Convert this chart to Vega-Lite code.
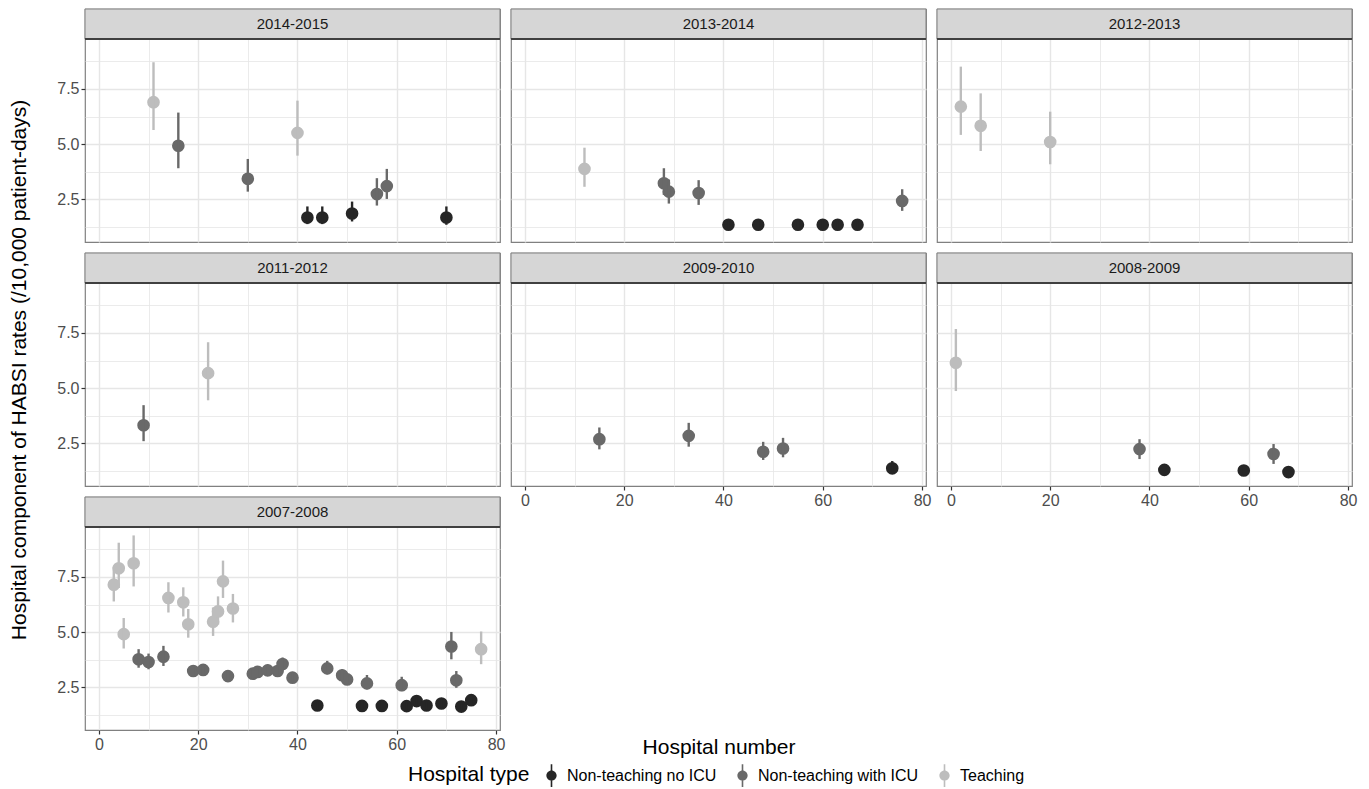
{
  "$schema": "https://vega.github.io/schema/vega-lite/v6.json",
  "background": "white",
  "padding": {"left": 8, "top": 7, "right": 5, "bottom": 0},
  "datasets": {"d": [
    {"p":"2014-2015","h":11,"t":"Teaching","v":6.9,"lo":5.64,"hi":8.71},
    {"p":"2014-2015","h":16,"t":"Non-teaching with ICU","v":4.93,"lo":3.91,"hi":6.43},
    {"p":"2014-2015","h":30,"t":"Non-teaching with ICU","v":3.43,"lo":2.85,"hi":4.33},
    {"p":"2014-2015","h":40,"t":"Teaching","v":5.51,"lo":4.48,"hi":6.97},
    {"p":"2014-2015","h":42,"t":"Non-teaching no ICU","v":1.68,"lo":1.38,"hi":2.18},
    {"p":"2014-2015","h":45,"t":"Non-teaching no ICU","v":1.68,"lo":1.38,"hi":2.18},
    {"p":"2014-2015","h":51,"t":"Non-teaching no ICU","v":1.86,"lo":1.5,"hi":2.4},
    {"p":"2014-2015","h":56,"t":"Non-teaching with ICU","v":2.74,"lo":2.22,"hi":3.46},
    {"p":"2014-2015","h":58,"t":"Non-teaching with ICU","v":3.1,"lo":2.52,"hi":3.88},
    {"p":"2014-2015","h":70,"t":"Non-teaching no ICU","v":1.68,"lo":1.35,"hi":2.18},
    {"p":"2013-2014","h":12,"t":"Teaching","v":3.88,"lo":3.07,"hi":4.84},
    {"p":"2013-2014","h":28,"t":"Non-teaching with ICU","v":3.23,"lo":2.7,"hi":3.91},
    {"p":"2013-2014","h":29,"t":"Non-teaching with ICU","v":2.85,"lo":2.31,"hi":3.4},
    {"p":"2013-2014","h":35,"t":"Non-teaching with ICU","v":2.79,"lo":2.25,"hi":3.37},
    {"p":"2013-2014","h":41,"t":"Non-teaching no ICU","v":1.35,"lo":1.15,"hi":1.6},
    {"p":"2013-2014","h":47,"t":"Non-teaching no ICU","v":1.35,"lo":1.15,"hi":1.6},
    {"p":"2013-2014","h":55,"t":"Non-teaching no ICU","v":1.35,"lo":1.15,"hi":1.6},
    {"p":"2013-2014","h":60,"t":"Non-teaching no ICU","v":1.35,"lo":1.15,"hi":1.6},
    {"p":"2013-2014","h":63,"t":"Non-teaching no ICU","v":1.35,"lo":1.15,"hi":1.6},
    {"p":"2013-2014","h":67,"t":"Non-teaching no ICU","v":1.35,"lo":1.15,"hi":1.6},
    {"p":"2013-2014","h":76,"t":"Non-teaching with ICU","v":2.43,"lo":1.98,"hi":2.96},
    {"p":"2012-2013","h":2,"t":"Teaching","v":6.7,"lo":5.42,"hi":8.51},
    {"p":"2012-2013","h":6,"t":"Teaching","v":5.83,"lo":4.69,"hi":7.3},
    {"p":"2012-2013","h":20,"t":"Teaching","v":5.1,"lo":4.09,"hi":6.47},
    {"p":"2011-2012","h":9,"t":"Non-teaching with ICU","v":3.32,"lo":2.6,"hi":4.23},
    {"p":"2011-2012","h":22,"t":"Teaching","v":5.68,"lo":4.45,"hi":7.08},
    {"p":"2009-2010","h":15,"t":"Non-teaching with ICU","v":2.69,"lo":2.23,"hi":3.22},
    {"p":"2009-2010","h":33,"t":"Non-teaching with ICU","v":2.84,"lo":2.35,"hi":3.43},
    {"p":"2009-2010","h":48,"t":"Non-teaching with ICU","v":2.12,"lo":1.75,"hi":2.57},
    {"p":"2009-2010","h":52,"t":"Non-teaching with ICU","v":2.27,"lo":1.87,"hi":2.75},
    {"p":"2009-2010","h":74,"t":"Non-teaching no ICU","v":1.37,"lo":1.15,"hi":1.7},
    {"p":"2008-2009","h":1,"t":"Teaching","v":6.15,"lo":4.87,"hi":7.68},
    {"p":"2008-2009","h":38,"t":"Non-teaching with ICU","v":2.24,"lo":1.79,"hi":2.69},
    {"p":"2008-2009","h":43,"t":"Non-teaching no ICU","v":1.3,"lo":1.1,"hi":1.55},
    {"p":"2008-2009","h":59,"t":"Non-teaching no ICU","v":1.27,"lo":1.08,"hi":1.5},
    {"p":"2008-2009","h":65,"t":"Non-teaching with ICU","v":2.02,"lo":1.57,"hi":2.47},
    {"p":"2008-2009","h":68,"t":"Non-teaching no ICU","v":1.2,"lo":1.02,"hi":1.45},
    {"p":"2007-2008","h":3,"t":"Teaching","v":7.15,"lo":6.39,"hi":7.95},
    {"p":"2007-2008","h":4,"t":"Teaching","v":7.89,"lo":7.0,"hi":9.05},
    {"p":"2007-2008","h":5,"t":"Teaching","v":4.91,"lo":4.26,"hi":5.64},
    {"p":"2007-2008","h":7,"t":"Teaching","v":8.12,"lo":7.07,"hi":9.38},
    {"p":"2007-2008","h":14,"t":"Teaching","v":6.55,"lo":5.89,"hi":7.26},
    {"p":"2007-2008","h":17,"t":"Teaching","v":6.35,"lo":5.71,"hi":7.03},
    {"p":"2007-2008","h":18,"t":"Teaching","v":5.36,"lo":4.75,"hi":6.05},
    {"p":"2007-2008","h":23,"t":"Teaching","v":5.47,"lo":4.83,"hi":6.12},
    {"p":"2007-2008","h":24,"t":"Teaching","v":5.94,"lo":5.35,"hi":6.62},
    {"p":"2007-2008","h":25,"t":"Teaching","v":7.3,"lo":6.55,"hi":8.24},
    {"p":"2007-2008","h":27,"t":"Teaching","v":6.07,"lo":5.44,"hi":6.73},
    {"p":"2007-2008","h":77,"t":"Teaching","v":4.23,"lo":3.55,"hi":5.03},
    {"p":"2007-2008","h":8,"t":"Non-teaching with ICU","v":3.77,"lo":3.39,"hi":4.23},
    {"p":"2007-2008","h":10,"t":"Non-teaching with ICU","v":3.65,"lo":3.32,"hi":4.03},
    {"p":"2007-2008","h":13,"t":"Non-teaching with ICU","v":3.89,"lo":3.47,"hi":4.38},
    {"p":"2007-2008","h":19,"t":"Non-teaching with ICU","v":3.24,"lo":3.0,"hi":3.5},
    {"p":"2007-2008","h":21,"t":"Non-teaching with ICU","v":3.29,"lo":3.05,"hi":3.55},
    {"p":"2007-2008","h":26,"t":"Non-teaching with ICU","v":3.01,"lo":2.78,"hi":3.27},
    {"p":"2007-2008","h":31,"t":"Non-teaching with ICU","v":3.12,"lo":2.88,"hi":3.38},
    {"p":"2007-2008","h":32,"t":"Non-teaching with ICU","v":3.2,"lo":2.95,"hi":3.46},
    {"p":"2007-2008","h":34,"t":"Non-teaching with ICU","v":3.27,"lo":3.02,"hi":3.53},
    {"p":"2007-2008","h":36,"t":"Non-teaching with ICU","v":3.24,"lo":2.99,"hi":3.5},
    {"p":"2007-2008","h":37,"t":"Non-teaching with ICU","v":3.56,"lo":3.28,"hi":3.85},
    {"p":"2007-2008","h":39,"t":"Non-teaching with ICU","v":2.94,"lo":2.7,"hi":3.2},
    {"p":"2007-2008","h":46,"t":"Non-teaching with ICU","v":3.36,"lo":3.09,"hi":3.7},
    {"p":"2007-2008","h":49,"t":"Non-teaching with ICU","v":3.05,"lo":2.8,"hi":3.32},
    {"p":"2007-2008","h":50,"t":"Non-teaching with ICU","v":2.86,"lo":2.62,"hi":3.12},
    {"p":"2007-2008","h":54,"t":"Non-teaching with ICU","v":2.68,"lo":2.41,"hi":3.06},
    {"p":"2007-2008","h":61,"t":"Non-teaching with ICU","v":2.6,"lo":2.33,"hi":2.98},
    {"p":"2007-2008","h":71,"t":"Non-teaching with ICU","v":4.35,"lo":3.77,"hi":5.01},
    {"p":"2007-2008","h":72,"t":"Non-teaching with ICU","v":2.82,"lo":2.48,"hi":3.24},
    {"p":"2007-2008","h":44,"t":"Non-teaching no ICU","v":1.68,"lo":1.5,"hi":1.88},
    {"p":"2007-2008","h":53,"t":"Non-teaching no ICU","v":1.66,"lo":1.48,"hi":1.86},
    {"p":"2007-2008","h":57,"t":"Non-teaching no ICU","v":1.66,"lo":1.48,"hi":1.86},
    {"p":"2007-2008","h":62,"t":"Non-teaching no ICU","v":1.65,"lo":1.47,"hi":1.85},
    {"p":"2007-2008","h":64,"t":"Non-teaching no ICU","v":1.88,"lo":1.68,"hi":2.1},
    {"p":"2007-2008","h":66,"t":"Non-teaching no ICU","v":1.68,"lo":1.5,"hi":1.88},
    {"p":"2007-2008","h":69,"t":"Non-teaching no ICU","v":1.77,"lo":1.58,"hi":1.98},
    {"p":"2007-2008","h":73,"t":"Non-teaching no ICU","v":1.63,"lo":1.45,"hi":1.83},
    {"p":"2007-2008","h":75,"t":"Non-teaching no ICU","v":1.92,"lo":1.72,"hi":2.15}
  ]},
  "columns": 3,
  "spacing": 11,
  "bounds": "flush",
  "concat": [
    {"width": 415, "height": 233, "data": {"name": "d"}, "transform": [{"filter": {"field": "p", "equal": "2014-2015"}}],
     "encoding": {
       "x": {"type": "quantitative", "scale": {"domain": [-2.8, 80.8], "nice": false, "zero": false},
         "axis": {"title": null, "values": [0,10,20,30,40,50,60,70,80], "labels": false, "ticks": false, "gridWidth": {"condition": {"test": "datum.value % 20 !== 0", "value": 0.8}, "value": 1.4}}},
       "y": {"type": "quantitative", "scale": {"domain": [0.57, 11.12], "nice": false, "zero": false},
         "axis": {"title": null, "values": [1.25,2.5,3.75,5,6.25,7.5,8.75], "labelExpr": "datum.value % 2.5 === 0 ? format(datum.value, '.1f') : ''",
           "tickSize": {"condition": {"test": "datum.value % 2.5 !== 0", "value": 0}, "value": 4},
           "gridWidth": {"condition": {"test": "datum.value % 2.5 !== 0", "value": 0.8}, "value": 1.4}}}
     },
     "layer": [
      {"mark": {"type": "point", "shape": "circle", "filled": true, "opacity": 1, "size": 160},
       "encoding": {"x": {"field": "h"}, "y": {"field": "v"},
        "color": {"field": "t", "type": "nominal", "scale": {"domain": ["Non-teaching no ICU","Non-teaching with ICU","Teaching"], "range": ["#262626","#696969","#bdbdbd"]}, "title": "Hospital type"}}},
      {"mark": {"type": "rule", "strokeWidth": 2.4},
       "encoding": {"x": {"field": "h"}, "y": {"field": "lo"}, "y2": {"field": "hi"}, "color": {"field": "t", "type": "nominal", "title": "Hospital type"}}},
      {"transform": [{"aggregate": [{"op": "count", "as": "n"}], "groupby": ["p"]}],
       "layer": [
        {"mark": {"type": "rect", "fill": "#d6d6d6", "stroke": "#808080", "strokeWidth": 1}, "encoding": {"x": {"datum": -2.8}, "x2": {"datum": 80.8}, "y": {"datum": 9.76}, "y2": {"datum": 11.12}}},
        {"mark": {"type": "rule", "stroke": "#404040", "strokeWidth": 2}, "encoding": {"x": {"datum": -2.8}, "x2": {"datum": 80.8}, "y": {"datum": 9.76}}},
        {"mark": {"type": "text", "fontSize": 15, "font": "Liberation Sans", "color": "#1a1a1a", "baseline": "middle"}, "encoding": {"x": {"datum": 39}, "y": {"datum": 10.44}, "text": {"field": "p"}}}
       ]}
     ]},
    {"width": 415, "height": 233, "data": {"name": "d"}, "transform": [{"filter": {"field": "p", "equal": "2013-2014"}}],
     "encoding": {
       "x": {"type": "quantitative", "scale": {"domain": [-2.8, 80.8], "nice": false, "zero": false},
         "axis": {"title": null, "values": [0,10,20,30,40,50,60,70,80], "labels": false, "ticks": false, "gridWidth": {"condition": {"test": "datum.value % 20 !== 0", "value": 0.8}, "value": 1.4}}},
       "y": {"type": "quantitative", "scale": {"domain": [0.57, 11.12], "nice": false, "zero": false},
         "axis": {"title": null, "values": [1.25,2.5,3.75,5,6.25,7.5,8.75], "labels": false, "ticks": false,
           "gridWidth": {"condition": {"test": "datum.value % 2.5 !== 0", "value": 0.8}, "value": 1.4}}}
     },
     "layer": [
      {"mark": {"type": "point", "shape": "circle", "filled": true, "opacity": 1, "size": 160},
       "encoding": {"x": {"field": "h"}, "y": {"field": "v"},
        "color": {"field": "t", "type": "nominal", "scale": {"domain": ["Non-teaching no ICU","Non-teaching with ICU","Teaching"], "range": ["#262626","#696969","#bdbdbd"]}, "title": "Hospital type"}}},
      {"mark": {"type": "rule", "strokeWidth": 2.4},
       "encoding": {"x": {"field": "h"}, "y": {"field": "lo"}, "y2": {"field": "hi"}, "color": {"field": "t", "type": "nominal", "title": "Hospital type"}}},
      {"transform": [{"aggregate": [{"op": "count", "as": "n"}], "groupby": ["p"]}],
       "layer": [
        {"mark": {"type": "rect", "fill": "#d6d6d6", "stroke": "#808080", "strokeWidth": 1}, "encoding": {"x": {"datum": -2.8}, "x2": {"datum": 80.8}, "y": {"datum": 9.76}, "y2": {"datum": 11.12}}},
        {"mark": {"type": "rule", "stroke": "#404040", "strokeWidth": 2}, "encoding": {"x": {"datum": -2.8}, "x2": {"datum": 80.8}, "y": {"datum": 9.76}}},
        {"mark": {"type": "text", "fontSize": 15, "font": "Liberation Sans", "color": "#1a1a1a", "baseline": "middle"}, "encoding": {"x": {"datum": 39}, "y": {"datum": 10.44}, "text": {"field": "p"}}}
       ]}
     ]},
    {"width": 415, "height": 233, "data": {"name": "d"}, "transform": [{"filter": {"field": "p", "equal": "2012-2013"}}],
     "encoding": {
       "x": {"type": "quantitative", "scale": {"domain": [-2.8, 80.8], "nice": false, "zero": false},
         "axis": {"title": null, "values": [0,10,20,30,40,50,60,70,80], "labels": false, "ticks": false, "gridWidth": {"condition": {"test": "datum.value % 20 !== 0", "value": 0.8}, "value": 1.4}}},
       "y": {"type": "quantitative", "scale": {"domain": [0.57, 11.12], "nice": false, "zero": false},
         "axis": {"title": null, "values": [1.25,2.5,3.75,5,6.25,7.5,8.75], "labels": false, "ticks": false,
           "gridWidth": {"condition": {"test": "datum.value % 2.5 !== 0", "value": 0.8}, "value": 1.4}}}
     },
     "layer": [
      {"mark": {"type": "point", "shape": "circle", "filled": true, "opacity": 1, "size": 160},
       "encoding": {"x": {"field": "h"}, "y": {"field": "v"},
        "color": {"field": "t", "type": "nominal", "scale": {"domain": ["Non-teaching no ICU","Non-teaching with ICU","Teaching"], "range": ["#262626","#696969","#bdbdbd"]}, "title": "Hospital type"}}},
      {"mark": {"type": "rule", "strokeWidth": 2.4},
       "encoding": {"x": {"field": "h"}, "y": {"field": "lo"}, "y2": {"field": "hi"}, "color": {"field": "t", "type": "nominal", "title": "Hospital type"}}},
      {"transform": [{"aggregate": [{"op": "count", "as": "n"}], "groupby": ["p"]}],
       "layer": [
        {"mark": {"type": "rect", "fill": "#d6d6d6", "stroke": "#808080", "strokeWidth": 1}, "encoding": {"x": {"datum": -2.8}, "x2": {"datum": 80.8}, "y": {"datum": 9.76}, "y2": {"datum": 11.12}}},
        {"mark": {"type": "rule", "stroke": "#404040", "strokeWidth": 2}, "encoding": {"x": {"datum": -2.8}, "x2": {"datum": 80.8}, "y": {"datum": 9.76}}},
        {"mark": {"type": "text", "fontSize": 15, "font": "Liberation Sans", "color": "#1a1a1a", "baseline": "middle"}, "encoding": {"x": {"datum": 39}, "y": {"datum": 10.44}, "text": {"field": "p"}}}
       ]}
     ]},
    {"width": 415, "height": 233, "data": {"name": "d"}, "transform": [{"filter": {"field": "p", "equal": "2011-2012"}}],
     "encoding": {
       "x": {"type": "quantitative", "scale": {"domain": [-2.8, 80.8], "nice": false, "zero": false},
         "axis": {"title": null, "values": [0,10,20,30,40,50,60,70,80], "labels": false, "ticks": false, "gridWidth": {"condition": {"test": "datum.value % 20 !== 0", "value": 0.8}, "value": 1.4}}},
       "y": {"type": "quantitative", "scale": {"domain": [0.57, 11.12], "nice": false, "zero": false},
         "axis": {"title": "Hospital component of HABSI rates (/10,000 patient-days)", "titleFontSize": 21, "titleFont": "Liberation Sans", "titleFontWeight": "normal", "titleColor": "#000000", "titlePadding": 27,
           "values": [1.25,2.5,3.75,5,6.25,7.5,8.75], "labelExpr": "datum.value % 2.5 === 0 ? format(datum.value, '.1f') : ''",
           "tickSize": {"condition": {"test": "datum.value % 2.5 !== 0", "value": 0}, "value": 4},
           "gridWidth": {"condition": {"test": "datum.value % 2.5 !== 0", "value": 0.8}, "value": 1.4}}}
     },
     "layer": [
      {"mark": {"type": "point", "shape": "circle", "filled": true, "opacity": 1, "size": 160},
       "encoding": {"x": {"field": "h"}, "y": {"field": "v"},
        "color": {"field": "t", "type": "nominal", "scale": {"domain": ["Non-teaching no ICU","Non-teaching with ICU","Teaching"], "range": ["#262626","#696969","#bdbdbd"]}, "title": "Hospital type"}}},
      {"mark": {"type": "rule", "strokeWidth": 2.4},
       "encoding": {"x": {"field": "h"}, "y": {"field": "lo"}, "y2": {"field": "hi"}, "color": {"field": "t", "type": "nominal", "title": "Hospital type"}}},
      {"transform": [{"aggregate": [{"op": "count", "as": "n"}], "groupby": ["p"]}],
       "layer": [
        {"mark": {"type": "rect", "fill": "#d6d6d6", "stroke": "#808080", "strokeWidth": 1}, "encoding": {"x": {"datum": -2.8}, "x2": {"datum": 80.8}, "y": {"datum": 9.76}, "y2": {"datum": 11.12}}},
        {"mark": {"type": "rule", "stroke": "#404040", "strokeWidth": 2}, "encoding": {"x": {"datum": -2.8}, "x2": {"datum": 80.8}, "y": {"datum": 9.76}}},
        {"mark": {"type": "text", "fontSize": 15, "font": "Liberation Sans", "color": "#1a1a1a", "baseline": "middle"}, "encoding": {"x": {"datum": 39}, "y": {"datum": 10.44}, "text": {"field": "p"}}}
       ]}
     ]},
    {"width": 415, "height": 233, "data": {"name": "d"}, "transform": [{"filter": {"field": "p", "equal": "2009-2010"}}],
     "encoding": {
       "x": {"type": "quantitative", "scale": {"domain": [-2.8, 80.8], "nice": false, "zero": false},
         "axis": {"title": "Hospital number", "titleFontSize": 21, "titleFont": "Liberation Sans", "titleFontWeight": "normal", "titleColor": "#000000", "titlePadding": 228,
           "values": [0,10,20,30,40,50,60,70,80], "labelExpr": "datum.value % 20 === 0 ? datum.label : ''",
           "tickSize": {"condition": {"test": "datum.value % 20 !== 0", "value": 0}, "value": 4},
           "gridWidth": {"condition": {"test": "datum.value % 20 !== 0", "value": 0.8}, "value": 1.4}}},
       "y": {"type": "quantitative", "scale": {"domain": [0.57, 11.12], "nice": false, "zero": false},
         "axis": {"title": null, "values": [1.25,2.5,3.75,5,6.25,7.5,8.75], "labels": false, "ticks": false,
           "gridWidth": {"condition": {"test": "datum.value % 2.5 !== 0", "value": 0.8}, "value": 1.4}}}
     },
     "layer": [
      {"mark": {"type": "point", "shape": "circle", "filled": true, "opacity": 1, "size": 160},
       "encoding": {"x": {"field": "h"}, "y": {"field": "v"},
        "color": {"field": "t", "type": "nominal", "scale": {"domain": ["Non-teaching no ICU","Non-teaching with ICU","Teaching"], "range": ["#262626","#696969","#bdbdbd"]}, "title": "Hospital type"}}},
      {"mark": {"type": "rule", "strokeWidth": 2.4},
       "encoding": {"x": {"field": "h"}, "y": {"field": "lo"}, "y2": {"field": "hi"}, "color": {"field": "t", "type": "nominal", "title": "Hospital type"}}},
      {"transform": [{"aggregate": [{"op": "count", "as": "n"}], "groupby": ["p"]}],
       "layer": [
        {"mark": {"type": "rect", "fill": "#d6d6d6", "stroke": "#808080", "strokeWidth": 1}, "encoding": {"x": {"datum": -2.8}, "x2": {"datum": 80.8}, "y": {"datum": 9.76}, "y2": {"datum": 11.12}}},
        {"mark": {"type": "rule", "stroke": "#404040", "strokeWidth": 2}, "encoding": {"x": {"datum": -2.8}, "x2": {"datum": 80.8}, "y": {"datum": 9.76}}},
        {"mark": {"type": "text", "fontSize": 15, "font": "Liberation Sans", "color": "#1a1a1a", "baseline": "middle"}, "encoding": {"x": {"datum": 39}, "y": {"datum": 10.44}, "text": {"field": "p"}}}
       ]}
     ]},
    {"width": 415, "height": 233, "data": {"name": "d"}, "transform": [{"filter": {"field": "p", "equal": "2008-2009"}}],
     "encoding": {
       "x": {"type": "quantitative", "scale": {"domain": [-2.8, 80.8], "nice": false, "zero": false},
         "axis": {"title": null, "values": [0,10,20,30,40,50,60,70,80], "labelExpr": "datum.value % 20 === 0 ? datum.label : ''",
           "tickSize": {"condition": {"test": "datum.value % 20 !== 0", "value": 0}, "value": 4},
           "gridWidth": {"condition": {"test": "datum.value % 20 !== 0", "value": 0.8}, "value": 1.4}}},
       "y": {"type": "quantitative", "scale": {"domain": [0.57, 11.12], "nice": false, "zero": false},
         "axis": {"title": null, "values": [1.25,2.5,3.75,5,6.25,7.5,8.75], "labels": false, "ticks": false,
           "gridWidth": {"condition": {"test": "datum.value % 2.5 !== 0", "value": 0.8}, "value": 1.4}}}
     },
     "layer": [
      {"mark": {"type": "point", "shape": "circle", "filled": true, "opacity": 1, "size": 160},
       "encoding": {"x": {"field": "h"}, "y": {"field": "v"},
        "color": {"field": "t", "type": "nominal", "scale": {"domain": ["Non-teaching no ICU","Non-teaching with ICU","Teaching"], "range": ["#262626","#696969","#bdbdbd"]}, "title": "Hospital type"}}},
      {"mark": {"type": "rule", "strokeWidth": 2.4},
       "encoding": {"x": {"field": "h"}, "y": {"field": "lo"}, "y2": {"field": "hi"}, "color": {"field": "t", "type": "nominal", "title": "Hospital type"}}},
      {"transform": [{"aggregate": [{"op": "count", "as": "n"}], "groupby": ["p"]}],
       "layer": [
        {"mark": {"type": "rect", "fill": "#d6d6d6", "stroke": "#808080", "strokeWidth": 1}, "encoding": {"x": {"datum": -2.8}, "x2": {"datum": 80.8}, "y": {"datum": 9.76}, "y2": {"datum": 11.12}}},
        {"mark": {"type": "rule", "stroke": "#404040", "strokeWidth": 2}, "encoding": {"x": {"datum": -2.8}, "x2": {"datum": 80.8}, "y": {"datum": 9.76}}},
        {"mark": {"type": "text", "fontSize": 15, "font": "Liberation Sans", "color": "#1a1a1a", "baseline": "middle"}, "encoding": {"x": {"datum": 39}, "y": {"datum": 10.44}, "text": {"field": "p"}}}
       ]}
     ]},
    {"width": 415, "height": 233, "data": {"name": "d"}, "transform": [{"filter": {"field": "p", "equal": "2007-2008"}}],
     "encoding": {
       "x": {"type": "quantitative", "scale": {"domain": [-2.8, 80.8], "nice": false, "zero": false},
         "axis": {"title": null, "values": [0,10,20,30,40,50,60,70,80], "labelExpr": "datum.value % 20 === 0 ? datum.label : ''",
           "tickSize": {"condition": {"test": "datum.value % 20 !== 0", "value": 0}, "value": 4},
           "gridWidth": {"condition": {"test": "datum.value % 20 !== 0", "value": 0.8}, "value": 1.4}}},
       "y": {"type": "quantitative", "scale": {"domain": [0.57, 11.12], "nice": false, "zero": false},
         "axis": {"title": null, "values": [1.25,2.5,3.75,5,6.25,7.5,8.75], "labelExpr": "datum.value % 2.5 === 0 ? format(datum.value, '.1f') : ''",
           "tickSize": {"condition": {"test": "datum.value % 2.5 !== 0", "value": 0}, "value": 4},
           "gridWidth": {"condition": {"test": "datum.value % 2.5 !== 0", "value": 0.8}, "value": 1.4}}}
     },
     "layer": [
      {"mark": {"type": "point", "shape": "circle", "filled": true, "opacity": 1, "size": 160},
       "encoding": {"x": {"field": "h"}, "y": {"field": "v"},
        "color": {"field": "t", "type": "nominal", "scale": {"domain": ["Non-teaching no ICU","Non-teaching with ICU","Teaching"], "range": ["#262626","#696969","#bdbdbd"]}, "title": "Hospital type"}}},
      {"mark": {"type": "rule", "strokeWidth": 2.4},
       "encoding": {"x": {"field": "h"}, "y": {"field": "lo"}, "y2": {"field": "hi"}, "color": {"field": "t", "type": "nominal", "title": "Hospital type"}}},
      {"transform": [{"aggregate": [{"op": "count", "as": "n"}], "groupby": ["p"]}],
       "layer": [
        {"mark": {"type": "rect", "fill": "#d6d6d6", "stroke": "#808080", "strokeWidth": 1}, "encoding": {"x": {"datum": -2.8}, "x2": {"datum": 80.8}, "y": {"datum": 9.76}, "y2": {"datum": 11.12}}},
        {"mark": {"type": "rule", "stroke": "#404040", "strokeWidth": 2}, "encoding": {"x": {"datum": -2.8}, "x2": {"datum": 80.8}, "y": {"datum": 9.76}}},
        {"mark": {"type": "text", "fontSize": 15, "font": "Liberation Sans", "color": "#1a1a1a", "baseline": "middle"}, "encoding": {"x": {"datum": 39}, "y": {"datum": 10.44}, "text": {"field": "p"}}}
       ]}
     ]}
  ],
  "resolve": {"scale": {"color": "shared"}, "legend": {"color": "shared"}},
  "config": {
    "view": {"stroke": "#808080", "strokeWidth": 1.2},
    "axis": {"domain": false, "gridColor": "#e6e6e6", "gridOpacity": 1, "tickColor": "#333333", "tickWidth": 1.2,
      "labelFontSize": 16, "labelColor": "#4d4d4d", "labelFont": "Liberation Sans", "labelPadding": 2},
    "legend": {"orient": "none", "legendX": 323, "legendY": 755, "direction": "horizontal", "titleOrient": "left",
      "titleFontSize": 21, "titleFont": "Liberation Sans", "titleFontWeight": "normal", "titleColor": "#000000", "titlePadding": 10,
      "labelFontSize": 16, "labelFont": "Liberation Sans", "labelColor": "#000000", "labelLimit": 400,
      "symbolType": "M-0.07,-1H0.07V1H-0.07Z M0.45,0A0.45,0.45 0 1,1 -0.45,0A0.45,0.45 0 1,1 0.45,0Z",
      "symbolSize": 520, "symbolStrokeWidth": 0, "columnPadding": 14}
  }
}
